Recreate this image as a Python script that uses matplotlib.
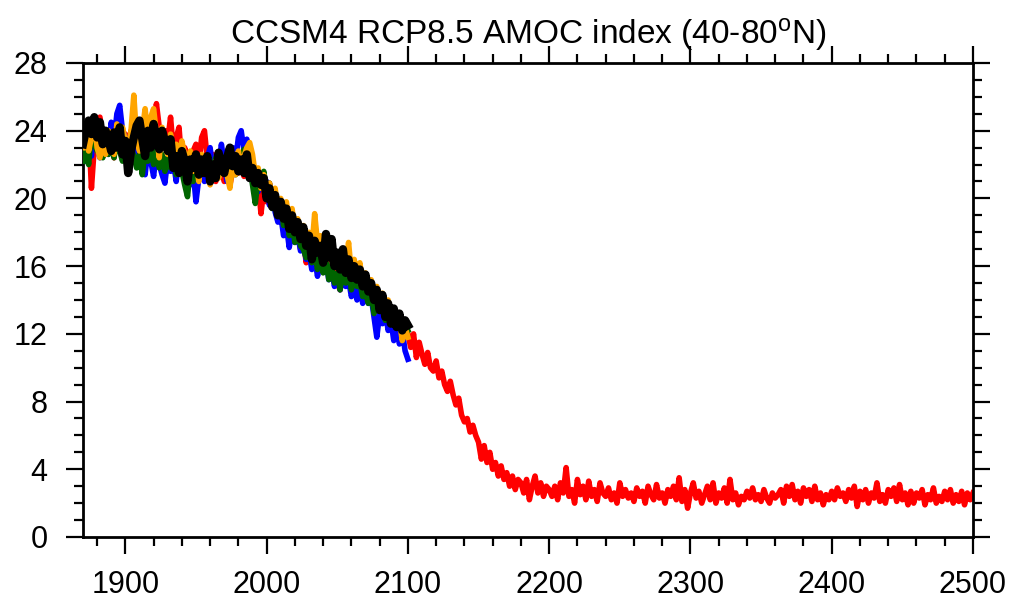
import numpy as np
import matplotlib
matplotlib.use("Agg")
import matplotlib.pyplot as plt
from matplotlib.ticker import MultipleLocator

plt.rcParams['font.family'] = ['Liberation Sans', 'DejaVu Sans']
plt.rcParams['mathtext.fontset'] = 'custom'
plt.rcParams['mathtext.rm'] = 'Liberation Sans'
plt.rcParams['mathtext.it'] = 'Liberation Sans'

title = 'CCSM4 RCP8.5 AMOC index (40-80$^\\mathrm{o}$N)'
x_ticks = [1900, 2000, 2100, 2200, 2300, 2400, 2500]
y_ticks = [0, 4, 8, 12, 16, 20, 24, 28]

# years 1870..2100 every 2 years (116 values)
years_hist = np.arange(1870, 2101, 2)
# red extension 2102..2500 every 2 years (200 values)
years_ext = np.arange(2102, 2501, 2)

black = [23.2, 24.0, 24.6, 23.8, 24.8, 23.6, 24.5, 23.2, 24.0, 23.5,
         22.8, 23.9, 23.0, 24.2, 22.6, 23.4, 21.5, 22.8, 23.6, 24.3,
         24.6, 23.5, 22.5, 24.0, 23.0, 24.4, 23.5, 22.9, 24.0, 23.4,
         22.8, 23.5, 21.8, 22.5, 21.5, 22.8, 22.2, 21.0, 22.3, 21.8,
         22.6, 21.4, 22.3, 21.5, 22.5, 21.0, 22.0, 21.2, 22.7, 22.0,
         21.5, 22.4, 23.0, 21.9, 22.5, 21.6, 22.3, 21.5, 22.6, 21.2,
         21.8, 20.9, 21.5, 20.8, 21.2, 20.0, 20.6, 19.5, 20.2, 19.0,
         19.8, 18.8, 19.4, 18.2, 19.0, 18.0, 18.6, 17.6, 18.3, 17.2,
         17.8, 16.4, 17.5, 16.8, 17.2, 16.2, 17.9, 16.5, 17.6, 16.0,
         16.8, 15.8, 17.0, 15.6, 16.4, 15.3, 16.0, 15.2, 15.8, 14.8,
         15.5, 14.5, 15.0, 14.0, 14.6, 13.4, 14.3, 13.0, 13.8, 12.6,
         13.5, 12.4, 13.2, 12.2, 12.8, 12.5]

red_hist = [23.0, 22.5, 24.2, 20.6, 23.0, 24.5, 24.8, 23.5, 24.0, 22.8,
            23.6, 22.4, 24.5, 23.0, 22.8, 23.8, 22.6, 24.0, 23.2, 24.6,
            23.8, 22.6, 23.5, 24.5, 23.2, 24.0, 25.6, 24.2, 23.0, 24.0,
            23.4, 24.8, 22.8, 23.6, 24.2, 22.0, 23.0, 22.4, 21.6, 22.8,
            23.2, 22.0, 23.6, 24.0, 22.3, 21.5, 22.6, 21.0, 22.2, 21.6,
            21.0, 22.2, 20.8, 21.6, 22.8, 21.5, 22.0, 21.3, 22.6, 21.5,
            21.2, 20.6, 21.0, 19.1, 20.5, 19.8, 20.9, 20.0, 19.6, 18.8,
            19.4, 18.5, 19.0, 17.8, 18.6, 17.5, 18.2, 17.0, 17.6, 16.2,
            17.2, 16.5, 17.6, 16.0, 17.0, 15.8, 16.6, 15.4, 16.2, 15.6,
            15.0, 14.6, 15.8, 15.2, 16.0, 14.8, 15.4, 14.4, 15.2, 14.2,
            14.8, 14.0, 14.6, 13.5, 14.2, 13.0, 13.8, 12.8, 13.6, 12.4,
            13.0, 12.0, 12.6, 11.8, 12.2, 12.0]

red_ext = [11.2, 12.0, 10.6, 11.5, 10.8, 10.2, 10.9, 10.0, 9.8, 10.4,
           9.4, 9.8, 9.0, 8.6, 9.2, 8.4, 7.8, 8.2, 7.2, 6.8,
           7.0, 6.2, 6.6, 6.0, 5.6, 4.6, 5.4, 4.4, 5.0, 4.0,
           4.4, 3.6, 4.2, 3.4, 3.8, 3.0, 3.6, 2.8, 3.4, 3.2,
           2.6, 3.4, 2.2, 3.0, 3.6, 2.6, 3.2, 2.4, 3.0, 2.8,
           2.4, 3.0, 2.2, 3.2, 2.6, 4.1, 2.4, 2.8, 2.0, 3.4,
           2.5, 3.0, 2.2, 3.3, 2.4, 2.8, 2.1, 3.2, 2.6, 2.4,
           2.9, 2.2, 2.6, 2.0, 3.2, 2.4, 2.8, 2.3, 2.6, 2.1,
           2.9, 2.4, 2.7, 2.0, 3.0, 2.5, 2.2, 3.1, 2.3, 2.6,
           2.0, 2.8, 2.4, 3.0, 2.2, 3.5, 2.1, 2.8, 1.7, 2.6,
           3.2, 2.3, 2.7, 2.0, 2.5, 3.0, 2.2, 3.2, 2.0, 2.6,
           2.3, 2.9, 2.0, 3.4, 2.2, 2.6, 1.9, 2.4, 2.2, 2.7,
           2.3, 2.9, 2.2, 2.5, 2.1, 2.8, 2.3, 2.0, 2.6, 2.3,
           2.5, 2.8, 2.0, 3.0, 2.4, 3.1, 2.2, 2.7, 2.0, 2.9,
           2.4, 2.8, 2.1, 3.0, 2.2, 2.6, 1.9, 2.5, 2.2, 2.7,
           2.2, 2.9, 2.4, 2.6, 2.1, 2.8, 2.3, 3.0, 1.8, 2.7,
           2.2, 2.8, 2.0, 2.6, 2.3, 3.2, 2.1, 2.5, 2.0, 2.8,
           2.4, 2.9, 2.1, 3.1, 2.2, 2.6, 1.9, 2.7, 2.0, 2.6,
           2.3, 2.8, 1.9, 2.5, 2.2, 2.9, 2.0, 2.4, 2.1, 2.7,
           2.2, 2.8, 2.0, 2.5, 2.1, 2.7, 1.9, 2.6, 2.2, 2.6]

blue = [23.5, 22.2, 23.8, 22.5, 24.2, 23.0, 22.4, 24.0, 23.2, 22.6,
        24.5, 23.4, 25.0, 25.5, 24.0, 23.6, 22.5, 23.8, 23.0, 22.4,
        23.6, 22.8, 21.4, 23.0, 22.2, 21.3, 22.8, 22.0, 21.4, 20.9,
        22.4, 21.6, 22.2, 21.0, 22.6, 21.8, 21.2, 22.4, 20.8, 21.6,
        19.8, 21.2, 22.0, 21.0, 22.4, 23.0, 21.6, 22.4, 21.8, 23.2,
        22.0, 21.0, 22.6, 23.0, 22.2, 23.6, 24.0, 22.8, 23.5, 21.6,
        21.0, 21.8, 20.4, 21.4, 20.6, 21.0, 19.6, 20.4, 19.2, 18.6,
        19.0, 17.8, 18.4, 17.1, 18.2, 17.4, 17.9, 16.9, 17.2, 16.4,
        16.8, 15.8, 16.6, 15.4, 16.2, 15.8, 16.4, 15.2, 15.9, 14.8,
        15.4, 14.6, 15.6, 14.8, 15.2, 14.2, 14.8, 14.0, 15.0, 13.8,
        14.6, 13.8, 14.2, 13.0, 11.8, 13.2, 12.6, 13.4, 12.2, 12.8,
        11.6, 12.6, 11.4, 12.2, 11.0, 10.5]

green = [22.2, 23.5, 22.0, 24.0, 23.2, 22.8, 23.8, 22.4, 23.4, 22.6,
         23.2, 22.4, 23.6, 22.8, 22.2, 23.4, 22.0, 23.0, 22.5, 21.8,
         22.6, 21.4, 22.8, 22.2, 23.0, 22.0, 23.2, 21.8, 22.6, 21.6,
         22.4, 21.8, 22.8, 21.4, 22.2, 21.6, 20.8, 20.1, 21.8, 21.0,
         22.0, 21.2, 22.5, 21.6, 22.2, 21.0, 21.8, 22.4, 21.4, 22.0,
         21.6, 22.2, 21.0, 22.0, 21.4, 22.6, 21.8, 22.9, 21.5, 22.0,
         20.8, 19.7, 21.2, 20.6, 21.6, 20.4, 20.9, 19.4, 20.2, 19.0,
         19.6, 18.4, 19.2, 17.8, 18.5, 17.4, 18.2, 17.2, 17.0, 16.5,
         17.2, 16.2, 16.9, 15.8, 16.8, 15.6, 16.6, 15.2, 16.0, 15.0,
         15.6, 14.6, 15.8, 15.0, 15.8, 14.6, 15.4, 14.8, 15.0, 14.2,
         14.4, 13.8, 14.5, 13.2, 14.0, 13.4, 13.6, 12.8, 13.4, 12.6,
         13.0, 12.4, 12.8, 12.0, 12.6, 12.2]

orange = [23.0, 24.2, 22.8, 23.6, 24.6, 23.0, 22.4, 23.8, 22.6, 24.0,
          23.2, 22.6, 24.4, 23.0, 24.2, 23.4, 22.8, 24.0, 26.1, 23.5,
          22.8, 24.0, 25.3, 23.6, 24.8, 25.3, 23.8, 22.4, 24.2, 23.0,
          22.6, 23.8, 22.4, 23.2, 22.0, 23.4, 22.6, 21.8, 22.8, 21.6,
          22.2, 21.0, 22.6, 21.8, 22.4, 20.8, 21.6, 22.2, 21.2, 21.8,
          22.4, 21.4, 20.6, 22.0, 21.4, 22.8, 21.6, 22.5, 23.0, 23.3,
          22.6, 21.4, 21.8, 20.6, 21.4, 20.4, 20.9, 19.8, 20.6, 19.4,
          20.0, 19.2, 19.8, 18.6, 19.4, 18.2, 18.8, 17.8, 18.4, 17.6,
          18.0, 17.0, 19.1, 17.4, 17.8, 16.6, 17.4, 16.4, 17.2, 16.4,
          16.8, 15.8, 17.0, 16.0, 17.4, 15.6, 16.4, 15.4, 16.2, 15.0,
          15.6, 14.6, 15.2, 14.2, 14.8, 13.8, 14.4, 13.4, 14.0, 12.8,
          13.4, 12.4, 12.8, 11.6, 12.4, 11.8]

fig = plt.figure(figsize=(10.13, 6.01), dpi=100)
ax = fig.add_axes([0.0819, 0.1065, 0.8786, 0.7887])

red_years = np.concatenate([years_hist, years_ext])
red_all = red_hist + red_ext
ax.plot(red_years, red_all, color='#ff0000', lw=4.0, zorder=2)
ax.plot(years_hist, blue, color='#0000ff', lw=4.0, zorder=3)
ax.plot(years_hist, green, color='#006400', lw=4.0, zorder=4)
ax.plot(years_hist, orange, color='#ffa500', lw=4.0, zorder=5)
ax.plot(years_hist, black, color='#000000', lw=6.0, zorder=6)

ax.set_xlim(1870, 2500)
ax.set_ylim(0, 28)
ax.set_xticks(x_ticks)
ax.set_yticks(y_ticks)
ax.xaxis.set_minor_locator(MultipleLocator(20))
ax.yaxis.set_minor_locator(MultipleLocator(1))
ax.tick_params(which='both', direction='out', top=True, right=True,
               labeltop=False, labelright=False, width=1.6)
ax.tick_params(which='major', length=12.5, labelsize=22)
ax.tick_params(axis='x', which='major', pad=11)
ax.tick_params(axis='y', which='major', pad=13)
ax.tick_params(which='minor', length=6.5)
for s in ax.spines.values():
    s.set_linewidth(2.0)

ax.set_title(title, fontsize=24, pad=14)

fig.savefig('out.png', dpi=100)
